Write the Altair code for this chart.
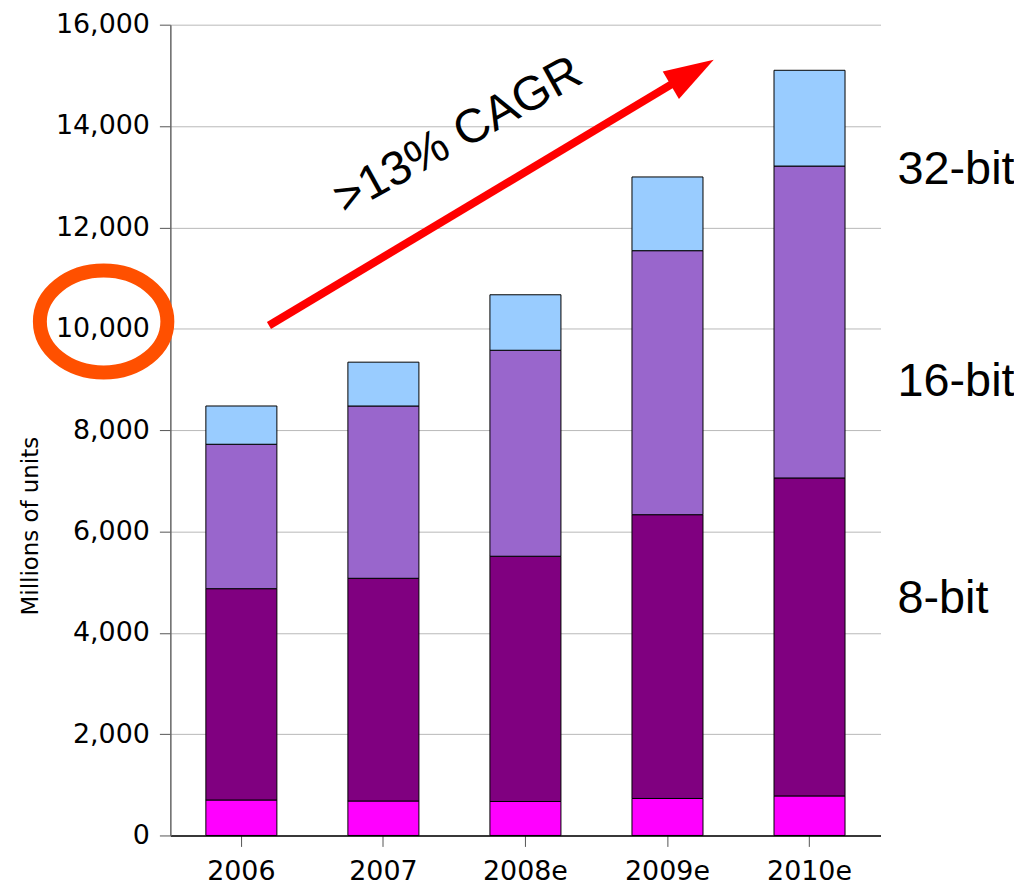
import altair as alt
import pandas as pd

years = ["2006", "2007", "2008e", "2009e", "2010e"]
series = ["4-bit", "8-bit", "16-bit", "32-bit"]
bit4 = [700, 680, 670, 730, 780]
bit8 = [4170, 4395, 4840, 5600, 6275]
bit16 = [2850, 3400, 4065, 5210, 6155]
bit32 = [755, 865, 1095, 1455, 1890]
colors = ["#FF00FF", "#800080", "#9966CC", "#99CCFF"]
y_ticks = [0, 2000, 4000, 6000, 8000, 10000, 12000, 14000, 16000]
side_labels = ["32-bit", "16-bit", "8-bit"]
cagr_text = ">13% CAGR"

rows = []
for s_i, (name, vals) in enumerate(zip(series, [bit4, bit8, bit16, bit32])):
    for yr, v in zip(years, vals):
        rows.append({"year": yr, "series": name, "value": v, "ord": s_i})
df = pd.DataFrame(rows)

one = pd.DataFrame({"k": [0]})

bars = alt.Chart(df).mark_bar(stroke="black", strokeWidth=1).encode(
    x=alt.X("year:N", sort=years, title=None,
            scale=alt.Scale(paddingInner=0.5, paddingOuter=0.25),
            axis=alt.Axis(labelAngle=0, tickSize=11, labelPadding=12,
                          domainColor="black", domainWidth=1.5,
                          tickColor="#555555", grid=False)),
    y=alt.Y("value:Q", stack="zero",
            scale=alt.Scale(domain=[0, 16000], nice=False),
            axis=alt.Axis(values=y_ticks, format=",.0f", tickSize=11, labelPadding=10,
                          domainColor="#666666", domainWidth=1.5, tickColor="#555555",
                          gridColor="#b8b8b8", gridWidth=1,
                          title="Millions of units", titleFont="DejaVu Sans",
                          titleFontSize=23, titleFontWeight="normal",
                          titleAngle=270, titleAlign="center", titleBaseline="middle",
                          titleX=-140, titleY=503)),
    color=alt.Color("series:N", scale=alt.Scale(domain=series, range=colors), legend=None),
    order=alt.Order("ord:Q", sort="ascending"),
)

arrow_line = alt.Chart(one).mark_rule(color="#FF0000", strokeWidth=8).encode(
    x=alt.value(99), y=alt.value(302), x2=alt.value(503), y2=alt.value(60)
)

arrow_head = alt.Chart(one).mark_point(
    shape="M 1 0 L -1 -0.64 L -1 0.64 Z", filled=True, color="#FF0000",
    opacity=1, size=2500, angle=329.4, strokeWidth=0
).encode(x=alt.value(524), y=alt.value(48))

cagr = alt.Chart(one).mark_text(
    text=cagr_text, font="Liberation Sans", fontSize=48, angle=331,
    align="center", baseline="middle", color="black"
).encode(x=alt.value(289), y=alt.value(112))

ellipse = alt.Chart(one).mark_point(
    shape="M -1 0 C -1 -0.442 -0.552 -0.8 0 -0.8 C 0.552 -0.8 1 -0.442 1 0 "
          "C 1 0.442 0.552 0.8 0 0.8 C -0.552 0.8 -1 0.442 -1 0 Z",
    filled=False, stroke="#FF5000", strokeWidth=14, opacity=1, size=16384
).encode(x=alt.value(-67), y=alt.value(298))

lab_df = pd.DataFrame({"label": side_labels, "py": [146, 359, 577]})
side = alt.Chart(lab_df).mark_text(
    font="Liberation Sans", fontSize=47, align="left", baseline="middle", color="black"
).encode(x=alt.value(730), y=alt.Y("py:Q", scale=None), text="label:N")

chart = alt.layer(bars, arrow_line, arrow_head, cagr, ellipse, side).properties(
    width=713, height=814,
    autosize=alt.AutoSizeParams(type="none"),
    padding={"left": 163, "top": 15, "right": 134, "bottom": 50},
).configure_view(strokeWidth=0).configure_axis(
    labelFont="DejaVu Sans", labelFontSize=27, labelColor="black"
)

chart.save("out.html", embed_options={"renderer": "svg", "actions": False})
